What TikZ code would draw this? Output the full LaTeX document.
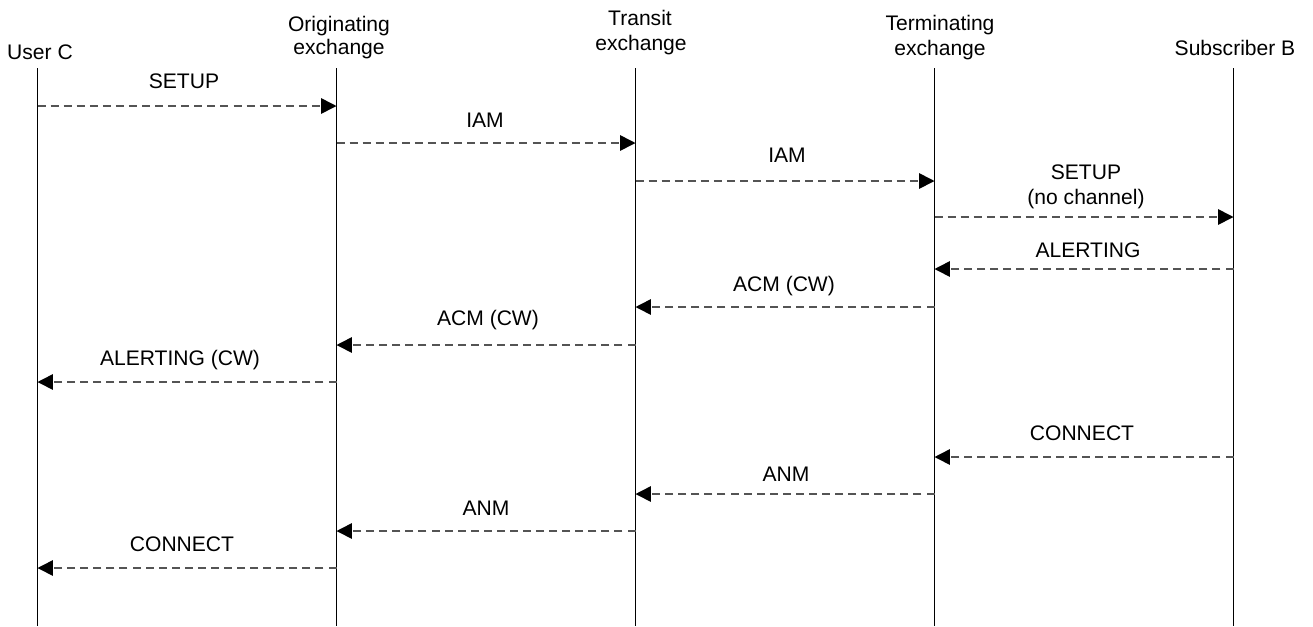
\documentclass[tikz,border=0pt]{standalone}
\usepackage{fontspec}
\setmainfont{Liberation Sans}
\usetikzlibrary{arrows.meta}
\begin{document}
\begin{tikzpicture}[x=0.75pt,y=-0.75pt,
  hdr/.style={font=\fontsize{15.8pt}{18.75pt}\selectfont, align=center, inner sep=0pt, anchor=base},
  lbl/.style={font=\fontsize{15.8pt}{18.75pt}\selectfont, inner sep=0pt, anchor=base},
  life/.style={draw=black, line width=0.75pt},
  msg/.style={draw=black!67, line width=1.2pt, dash pattern=on 6pt off 3.8pt,
    -{Triangle[length=11.5pt,width=11.5pt,fill=black,color=black]}}]
\useasboundingbox (0,0) rectangle (1313,626);
% headers
\node[hdr] (hC) at (40,59) {User C};
\node[hdr] (hO1) at (339,31) {Originating};
\node[hdr] (hO2) at (339,54) {exchange};
\node[hdr] (hT1) at (640,25) {Transit};
\node[hdr] (hT2) at (641,50) {exchange};
\node[hdr] (hM1) at (940,30) {Terminating};
\node[hdr] (hM2) at (940,55) {exchange};
\node[hdr] (hB) at (1235,55) {Subscriber B};
% lifelines
\coordinate (Ct) at (37.5,68);  \coordinate (Cb) at (37.5,626);
\coordinate (Ot) at (336.5,68); \coordinate (Ob) at (336.5,626);
\coordinate (Tt) at (635.5,68); \coordinate (Tb) at (635.5,626);
\coordinate (Mt) at (934.5,68); \coordinate (Mb) at (934.5,626);
\coordinate (Bt) at (1233.5,68);\coordinate (Bb) at (1233.5,626);
\draw[life] (Ct) -- (Cb);
\draw[life] (Ot) -- (Ob);
\draw[life] (Tt) -- (Tb);
\draw[life] (Mt) -- (Mb);
\draw[life] (Bt) -- (Bb);
% message endpoints
\coordinate (C1) at (37.5,106);  \coordinate (O1) at (336.5,106);
\coordinate (O2) at (336.5,143); \coordinate (T2) at (635.5,143);
\coordinate (T3) at (635.5,181); \coordinate (M3) at (934.5,181);
\coordinate (M4) at (934.5,217); \coordinate (B4) at (1233.5,217);
\coordinate (B5) at (1233.5,269);\coordinate (M5) at (934.5,269);
\coordinate (M6) at (934.5,307); \coordinate (T6) at (635.5,307);
\coordinate (T7) at (635.5,345); \coordinate (O7) at (336.5,345);
\coordinate (O8) at (336.5,382); \coordinate (C8) at (37.5,382);
\coordinate (B9) at (1233.5,457);\coordinate (M9) at (934.5,457);
\coordinate (M10) at (934.5,494);\coordinate (T10) at (635.5,494);
\coordinate (T11) at (635.5,531);\coordinate (O11) at (336.5,531);
\coordinate (O12) at (336.5,568);\coordinate (C12) at (37.5,568);
% messages
\draw[msg] (C1) -- (O1);
\draw[msg] (O2) -- (T2);
\draw[msg] (T3) -- (M3);
\draw[msg] (M4) -- (B4);
\draw[msg] (B5) -- (M5);
\draw[msg] (M6) -- (T6);
\draw[msg] (T7) -- (O7);
\draw[msg] (O8) -- (C8);
\draw[msg] (B9) -- (M9);
\draw[msg] (M10) -- (T10);
\draw[msg] (T11) -- (O11);
\draw[msg] (O12) -- (C12);
% labels
\node[lbl] (l1) at (184,88) {SETUP};
\node[lbl] (l2) at (485,127) {IAM};
\node[lbl] (l3) at (787,162) {IAM};
\node[lbl] (l4a) at (1086,179) {SETUP};
\node[lbl] (l4b) at (1086,204) {(no channel)};
\node[lbl] (l5) at (1088,257) {ALERTING};
\node[lbl] (l6) at (784,291) {ACM (CW)};
\node[lbl] (l7) at (488,325) {ACM (CW)};
\node[lbl] (l8) at (180,365) {ALERTING (CW)};
\node[lbl] (l9) at (1082,440) {CONNECT};
\node[lbl] (l10) at (786,481) {ANM};
\node[lbl] (l11) at (486,515) {ANM};
\node[lbl] (l12) at (182,551) {CONNECT};
\end{tikzpicture}
\end{document}
